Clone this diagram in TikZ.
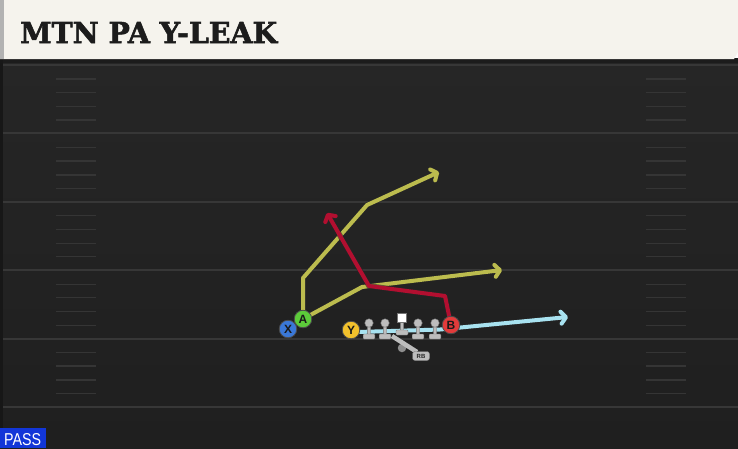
\documentclass[tikz,border=0pt]{standalone}
\usepackage{fontspec}
\usepackage{graphicx}
\usetikzlibrary{arrows.meta}
\newfontfamily\titlefont{DejaVuSerif-Bold}[Extension=.ttf, FakeBold=2]
\newfontfamily\labelfont{Liberation Sans}[BoldFont={Liberation Sans Bold}]
\definecolor{fieldtop}{HTML}{262626}
\definecolor{fieldbot}{HTML}{1F1F1F}
\definecolor{yardline}{HTML}{373737}
\definecolor{hashc}{HTML}{353535}
\definecolor{headerc}{HTML}{F5F3ED}
\definecolor{titlec}{HTML}{1C1C1C}
\definecolor{routeY}{HTML}{BCBC4E}
\definecolor{routeR}{HTML}{B20F30}
\definecolor{routeB}{HTML}{A8E2F0}
\definecolor{olgray}{HTML}{BDBDBD}
\definecolor{pX}{HTML}{3A78D8}
\definecolor{pA}{HTML}{5CCB3A}
\definecolor{pY}{HTML}{F2C12C}
\definecolor{pB}{HTML}{E23B3B}
\definecolor{passblue}{HTML}{1236D8}
\pgfdeclarelayer{bg}
\pgfdeclarelayer{rt}
\pgfsetlayers{bg,rt,main}
\tikzset{
  route/.style={line width=4pt, line join=round, line cap=round,
    -{Straight Barb[length=5pt,width=12pt,line cap=round,line join=round]},
    preaction={draw=black!85, line width=5.5pt, opacity=0.6}},
  player/.style={circle, minimum size=17.5pt, inner sep=0pt, draw=black!70,
    line width=0.8pt, text=black!90,
    font=\labelfont\bfseries\fontsize{12}{12}\selectfont},
  olbody/.style={fill=olgray, draw=black!55, line width=0.4pt, rounded corners=0.8pt},
  yardstyle/.style={draw=yardline, line width=2pt},
  hashstyle/.style={draw=hashc, line width=1.3pt}
}
\begin{document}
\begin{tikzpicture}[x=1pt,y=-1pt]
\useasboundingbox (0,0) rectangle (738,448);
\begin{pgfonlayer}{bg}
  % field
  \fill[top color=fieldtop, bottom color=fieldbot] (0,58) rectangle (738,448);
  \fill[black!40!fieldtop] (0,58) rectangle (3,428);
  \foreach \yy in {65,133.4,201.8,270.2,338.6,407}
    \draw[yardstyle] (3,\yy) -- (738,\yy);
  \foreach \yy in {65,133.4,201.8,270.2,338.6}{
    \foreach \dd in {14,27.5,41.5,55}{
      \draw[hashstyle] (56,\yy+\dd) -- (96,\yy+\dd);
      \draw[hashstyle] (646,\yy+\dd) -- (686,\yy+\dd);
    }
  }
  % header
  \fill[black!90, opacity=0.7] (0,58) rectangle (738,63);
  \fill[headerc] (0,0) -- (738,0) -- (738,52) -- (734,59) -- (0,59) -- cycle;
  \fill[black!30] (0,0) rectangle (4,59);
\end{pgfonlayer}

\node[anchor=base west, inner sep=0pt, text=titlec] (title) at (20,43)
  {\resizebox{257pt}{21pt}{\titlefont MTN PA Y-LEAK}};

% players
\node[player, fill=pX] (X) at (288,329) {X};
\node[player, fill=pA] (A) at (303,319) {A};
\node[player, fill=pY] (Y) at (351,330) {Y};
\node[player, fill=pB] (B) at (451,325) {B};

% linemen
\foreach \xx/\nm in {369/L1,385/L2,418/R1,435/R2}{
  \fill[olbody] (\xx-1.7,323) rectangle (\xx+1.7,336);
  \fill[olbody] (\xx-5.8,334) rectangle (\xx+5.8,339);
  \node[circle, fill=olgray, draw=black!55, line width=0.4pt, minimum size=8.5pt, inner sep=0pt] (\nm) at (\xx,323) {};
}
\fill[olbody] (400.3,321) rectangle (403.7,333);
\fill[olbody] (396,330) rectangle (408,335);
\node[rectangle, fill=white, draw=black!55, line width=0.4pt, minimum size=9pt, inner sep=0pt] (C) at (401.5,318) {};
% running back
\node[circle, fill=olgray!75!black, minimum size=8.5pt, inner sep=0pt] (RB) at (402,348) {};
\draw[olgray, line width=4.5pt] (392,336) -- (417,352);
\node[fill=olgray, draw=black!55, line width=0.4pt, rounded corners=2.5pt, inner sep=0pt, minimum width=17pt, minimum height=9pt,
  font=\labelfont\bfseries\fontsize{6}{6}\selectfont, text=black!85] (rbl) at (421,356) {RB};

% route waypoints
\coordinate (a1) at (303,278);
\coordinate (a2) at (367,205);
\coordinate (a3) at (439,172);
\coordinate (b1) at (362,287);
\coordinate (b2) at (502,270);
\coordinate (r1) at (445,296);
\coordinate (r2) at (369,286);
\coordinate (r3) at (327,213);
\coordinate (y0) at (358,332);
\coordinate (y1) at (440,329.5);
\coordinate (y2) at (568,317);

\begin{pgfonlayer}{rt}
  \draw[route, routeY] (A.center) -- (a1) -- (a2) -- (a3);
  \draw[route, routeY] (A.center) -- (b1) -- (b2);
  \draw[route, routeR] (B.center) -- (r1) -- (r2) -- (r3);
  \draw[route, routeB] (Y.center) -- (y0) -- (y1) -- (y2);
\end{pgfonlayer}

% pass tag
\fill[passblue] (0,428) rectangle (46,448);
\node[anchor=base west, inner sep=0pt, text=white] (pass) at (4,445)
  {\resizebox{37pt}{12pt}{\labelfont PASS}};
\end{tikzpicture}
\end{document}
